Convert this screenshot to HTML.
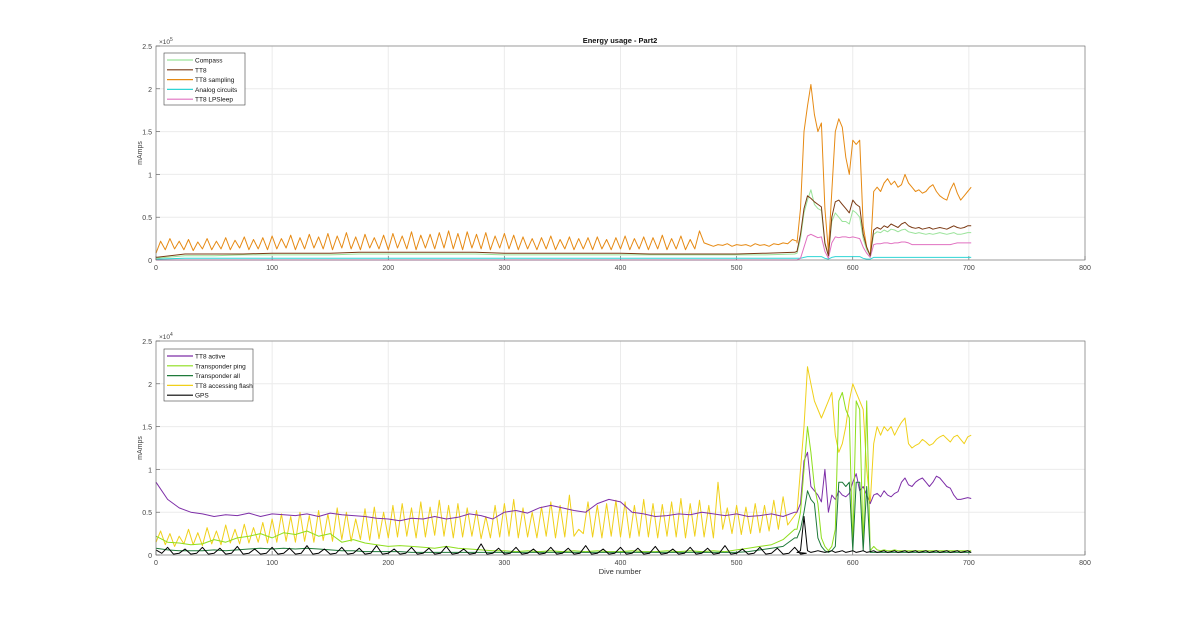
<!DOCTYPE html>
<html><head><meta charset="utf-8">
<style>
body{margin:0;background:#fff;}
svg text{font-family:"Liberation Sans",sans-serif;}
</style></head>
<body>
<svg id="chart" width="1200" height="622"></svg>
<script>
// ---- data (top panel in 1e3 mAmps, bottom panel in 1e3 mAmps) ----
const xTicks = [0,100,200,300,400,500,600,700,800];
const topYTicks = [0,0.5,1,1.5,2,2.5];
const botYTicks = [0,0.5,1,1.5,2,2.5];
const tailDives = [552,555,558,561,564,567,570,573,576,579,582,585,588,591,594,597,600,603,606,609,612,615,618,621,624,627,630,633,636,639,642,645,648,651,654,657,660,663,666,669,672,675,678,681,684,687,690,693,696,699,702];
// top
const samplingEarly = [8,22,12,25,13,22,12,24,11,21,13,25,12,22,13,26,12,23,14,27,12,24,13,26,12,28,13,25,14,29,12,26,13,30,14,27,13,31,12,28,14,32,13,27,12,30,14,26,13,29,12,31,14,28,13,33,12,29,14,30,13,32,14,34,13,31,12,33,14,30,13,32,12,28,14,31,13,29,12,27,13,25,12,26,13,28,12,24,13,27,12,25,13,26,12,27,13,24,12,26,13,28,12,25,13,27,12,26,13,29,12,25,13,28,12,24,13,34,20,18,16,18,17,19,16,18,17,18,16,19,17,18,16,19,18,20,19,24,22];
const samplingTail = [20,60,150,180,205,170,150,160,60,10,80,150,165,155,120,100,140,135,140,40,15,5,80,85,80,90,95,88,92,85,88,100,90,85,80,82,78,80,85,88,80,75,72,70,82,90,78,70,75,80,85];
const tt8Early = [3,7,7,7,8,8,8,9,9,9,9,9,8,8,8,8,8,7,7,7,7,8,9];
const tt8Tail = [10,30,60,75,72,68,65,62,20,5,50,68,70,65,60,55,70,65,62,30,15,5,35,38,36,40,38,42,40,38,42,44,40,38,37,38,36,37,38,36,37,38,37,36,38,40,38,37,38,40,40];
const compassEarly = [2,5,5,6,6,6,6,7,7,7,7,7,6,6,6,6,6,6,6,6,6,6,7];
const compassTail = [8,25,55,70,82,65,60,58,18,5,45,55,50,45,45,42,58,55,50,25,12,5,30,33,32,35,33,36,35,33,35,36,33,32,31,32,31,30,31,30,31,32,31,30,31,32,30,30,31,32,32];
const lpEarly = [0,0,0,0,0,0,0,0,0,0,0,0,0,0,0,0,0,0,0,0,0,0,0];
const lpTail = [0,2,15,28,30,28,26,27,10,2,20,27,26,27,27,26,27,26,25,15,8,3,18,19,19,20,20,19,20,20,21,21,20,18,18,18,18,18,18,18,18,18,18,18,18,19,20,20,20,20,20];
const analogEarly = [1,2,2,2,2,2,2,2,2,2,2,2,2,2,2,2,2,2,2,2,2,2,2];
const analogTail = [2,2,3,4,4,4,4,4,2,1,3,4,4,4,4,4,4,4,4,2,1,1,3,3,3,3,3,3,3,3,3,3,3,3,3,3,3,3,3,3,3,3,3,3,3,3,3,3,3,3,3];
// bottom
const flashEarly = [1.5,2.8,1.2,2.5,1.0,2.2,1.3,3.0,1.2,2.6,1.1,3.2,1.3,2.8,1.2,3.5,1.4,3.0,1.3,3.6,1.4,3.2,1.5,3.8,1.4,4.2,1.5,4.8,1.6,4.5,1.5,5.0,1.6,4.6,1.5,5.2,1.7,4.8,1.6,5.5,1.8,5.0,1.6,4.2,1.8,5.4,1.7,5.6,1.9,5.0,2.0,5.8,2.1,6.0,2.2,5.5,2.0,6.2,2.1,5.6,2.3,6.4,2.2,5.8,2.0,6.0,2.1,5.5,2.2,5.2,1.9,4.5,2.0,5.8,2.1,6.0,2.2,6.5,2.0,5.5,2.1,5.0,2.0,5.6,2.2,6.2,2.0,5.8,2.1,7.0,2.2,3.0,2.5,6.2,2.1,5.8,2.0,6.0,2.2,6.4,2.1,6.2,2.0,5.8,2.2,6.5,2.1,6.0,2.0,5.9,2.2,6.2,2.1,6.6,2.0,6.0,2.2,6.4,2.1,5.8,2.0,8.5,3.0,5.5,2.5,5.8,2.4,5.6,2.5,6.0,2.6,5.8,2.8,6.4,3.0,6.8,3.5];
const flashTail = [5,10,15,22,20,18,17,16,17,18,19,14,12,13,15,18,20,19,18,17,10,6,13,15,14,15,14.5,15,14,14.8,15.5,16,13,12.5,12.8,13,13.5,13.2,12.8,13,13.5,13.8,14,13.6,13.2,13.8,14,13.5,13,13.8,14];
const activeEarly = [8.5,6.5,5.5,5.0,4.8,4.5,4.7,4.6,4.9,4.5,4.8,4.7,4.6,4.8,4.5,4.9,4.7,4.6,4.5,4.3,4.2,4.0,4.3,4.2,4.5,4.2,4.4,4.8,4.6,4.2,5.0,5.2,4.9,5.5,5.8,5.5,5.2,5.0,6.0,6.5,6.2,5.0,4.8,4.5,4.6,4.8,4.7,5.0,4.8,4.6,4.8,4.5,4.6,4.8,4.5,5.0];
const activeTail = [5,6,11,12,8,7.5,7,6.2,10,5,7,6.5,7.5,7.0,6.8,7.2,8.5,9.5,7.5,8,7,6,7,7.2,6.8,7.5,7.0,6.8,7.2,7.4,8.5,9,8.2,8,8.5,8.8,9,8.5,8,8.5,9.2,9.0,8.5,8,7.8,7.0,6.5,6.5,6.6,6.7,6.6];
const pingEarly = [2.2,1.5,1.4,1.2,1.3,1.8,1.5,2.0,2.2,2.5,2.0,2.6,2.4,2.8,2.2,2.5,1.5,1.8,1.4,1.2,1.0,1.1,1.0,0.9,0.8,1.0,0.8,0.7,0.6,0.5,0.5,0.4,0.5,0.4,0.5,0.4,0.5,0.4,0.5,0.4,0.4,0.5,0.4,0.4,0.5,0.4,0.5,0.4,0.5,0.4,0.6,0.8,1.0,1.2,1.8,3.0];
const pingTail = [3,5,10,15,12,8,6,2,1,0.5,1,3,18,19,17,16,1,18,17,1,18,0.5,1,0.6,0.5,0.6,0.5,0.5,0.6,0.5,0.5,0.5,0.5,0.5,0.5,0.5,0.5,0.5,0.5,0.5,0.5,0.5,0.5,0.5,0.5,0.5,0.5,0.5,0.5,0.5,0.5];
const allEarly = [0.8,0.6,0.5,0.5,0.5,0.6,0.5,0.6,0.7,0.8,0.7,0.8,0.7,0.8,0.7,0.6,0.5,0.5,0.4,0.4,0.4,0.4,0.3,0.3,0.3,0.3,0.3,0.3,0.3,0.3,0.3,0.3,0.3,0.3,0.3,0.3,0.3,0.3,0.3,0.3,0.3,0.3,0.3,0.3,0.3,0.3,0.3,0.3,0.3,0.3,0.3,0.4,0.6,0.8,1.0,2.0];
const allTail = [2,3,5,7.5,6.5,6,2,1,0.5,0.3,0.5,1,8.5,8.5,8,8.5,0.5,8.5,8.5,0.5,8,0.3,0.3,0.3,0.3,0.3,0.3,0.3,0.3,0.3,0.3,0.3,0.3,0.3,0.3,0.3,0.3,0.3,0.3,0.3,0.3,0.3,0.3,0.3,0.3,0.3,0.3,0.3,0.3,0.3,0.3];
const gpsEarly = [0.6,0.2,0.9,0.1,0.2,0.7,0.1,0.2,0.9,0.1,0.2,0.8,0.1,0.2,1.0,0.1,0.2,0.7,0.1,0.2,0.9,0.1,0.2,0.8,0.1,0.2,1.1,0.1,0.2,0.7,0.1,0.2,0.9,0.1,0.2,0.8,0.1,0.2,1.1,0.1,0.2,0.7,0.1,0.2,0.9,0.1,0.2,0.8,0.1,0.2,1.0,0.1,0.2,0.7,0.1,0.2,1.3,0.1,0.2,0.8,0.1,0.2,0.9,0.1,0.2,0.7,0.1,0.2,0.9,0.1,0.2,0.8,0.1,0.2,1.1,0.1,0.2,0.7,0.1,0.2,0.9,0.1,0.2,0.8,0.1,0.2,1.0,0.1,0.2,0.7,0.1,0.2,0.9,0.1,0.2,0.8,0.1,0.2,1.1,0.1,0.2,0.7,0.1,0.2,0.9,0.1,0.2,0.8,0.1,0.2,0.9,0.1,0.2];
const gpsTail = [0.3,0.5,4.5,0.5,0.3,0.4,0.5,0.4,0.3,0.4,0.5,0.3,0.4,0.5,0.3,0.4,0.5,0.3,0.4,0.5,0.3,0.4,0.5,0.3,0.4,0.5,0.3,0.4,0.5,0.3,0.4,0.5,0.3,0.4,0.5,0.3,0.4,0.5,0.3,0.4,0.5,0.3,0.4,0.5,0.3,0.4,0.5,0.3,0.4,0.5,0.3];

const NS='http://www.w3.org/2000/svg';
const svg=document.getElementById('chart');
function mk(tag,attrs,parent){const e=document.createElementNS(NS,tag);for(const k in attrs)e.setAttribute(k,attrs[k]);(parent||svg).appendChild(e);return e;}
const X0=156,X1=1085;
function xs(d){return X0+(d/800)*(X1-X0);}
function makePanel(top,bottom,yTicks,exp,name){
  const g=mk('g',{});
  
  
  xTicks.forEach(t=>{const x=xs(t);
    const l=mk('line',{x1:x,x2:x,y1:top,y2:bottom,stroke:'#ebebeb','stroke-width':1},g);
    
    mk('line',{x1:x,x2:x,y1:bottom,y2:bottom-4,stroke:'#555','stroke-width':0.6},g);
    const tx=mk('text',{x:x,y:bottom+10,'font-size':7,'text-anchor':'middle',fill:'#444'},g);tx.textContent=t;
    });
  yTicks.forEach(t=>{const y=bottom-(t/2.5)*(bottom-top);
    mk('line',{x1:X0,x2:X1,y1:y,y2:y,stroke:'#ebebeb','stroke-width':1},g);
    mk('line',{x1:X0,x2:X0+4,y1:y,y2:y,stroke:'#555','stroke-width':0.6},g);
    const tx=mk('text',{x:X0-4,y:y+3,'font-size':7,'text-anchor':'end',fill:'#444'},g);tx.textContent=t;
    });
  const ex=mk('text',{x:X0+3,y:top-2,'font-size':6.5,fill:'#444'},g);ex.innerHTML='×10<tspan dy="-3" font-size="5">'+exp+'</tspan>';
  
  const yl=mk('text',{x:0,y:0,'font-size':7,'text-anchor':'middle',fill:'#444',transform:`translate(142,${(top+bottom)/2}) rotate(-90)`},g);yl.textContent='mAmps';
  
  return {g,top,bottom};
}
function drawSeries(p,max,earlyStep,early,tail,color,w,name){
  const ys=v=>p.bottom-(v/max)*(p.bottom-p.top);
  const pts=[];
  early.forEach((v,i)=>pts.push(xs(i*earlyStep).toFixed(1)+','+ys(v).toFixed(1)));
  const n=Math.min(tail.length,tailDives.length);
  for(let i=0;i<n;i++)pts.push(xs(tailDives[i]).toFixed(1)+','+ys(tail[i]).toFixed(1));
  const pl=mk('polyline',{points:pts.join(' '),fill:'none',stroke:color,'stroke-width':w,'stroke-linejoin':'round'},p.g);
  
  
}
function box(p){const r=mk('rect',{x:X0,y:p.top,width:X1-X0,height:p.bottom-p.top,fill:'none',stroke:'#666','stroke-width':0.6},p.g);
  }
function legend(p,x,y,w,items,name){
  const lg=mk('g',{},p.g);
  
  
  mk('rect',{x:x,y:y,width:w,height:items.length*9.8+3,fill:'#fff',stroke:'#444','stroke-width':0.6},lg);
  items.forEach((it,i)=>{const yy=y+7+i*9.8;
    mk('line',{x1:x+3,x2:x+29,y1:yy,y2:yy,stroke:it[1],'stroke-width':1.2},lg);
    const t=mk('text',{x:x+31,y:yy+2.5,'font-size':6.5,fill:'#111'},lg);t.textContent=it[0];
    });
}
// top
const P1=makePanel(46,260,topYTicks,5,'top-panel');
const title=mk('text',{x:620,y:43,'font-size':7.5,'font-weight':'bold','text-anchor':'middle',fill:'#111'});
title.textContent='Energy usage - Part2';


const C={compass:'#9be39b',tt8:'#7b3a14',samp:'#e68a14',analog:'#2fd5d5',lp:'#e070c0'};
drawSeries(P1,250,4,samplingEarly,samplingTail,C.samp,1,'series-tt8-sampling');
drawSeries(P1,250,25,analogEarly,analogTail,C.analog,1,'series-analog-circuits');
drawSeries(P1,250,25,lpEarly,lpTail,C.lp,1,'series-tt8-lpsleep');
drawSeries(P1,250,25,compassEarly,compassTail,C.compass,1,'series-compass');
drawSeries(P1,250,25,tt8Early,tt8Tail,C.tt8,1,'series-tt8');
box(P1);
legend(P1,164,53,81,[['Compass',C.compass],['TT8',C.tt8],['TT8 sampling',C.samp],['Analog circuits',C.analog],['TT8 LPSleep',C.lp]],'top-legend');
// bottom
const P2=makePanel(341,555,botYTicks,4,'bottom-panel');
const D={active:'#7e2fa8',ping:'#8ede1c',all:'#1f7a3a',flash:'#f0d01a',gps:'#000'};
drawSeries(P2,25,4,flashEarly,flashTail,D.flash,1,'series-tt8-accessing-flash');
drawSeries(P2,25,10,activeEarly,activeTail,D.active,1,'series-tt8-active');
drawSeries(P2,25,10,pingEarly,pingTail,D.ping,1,'series-transponder-ping');
drawSeries(P2,25,10,allEarly,allTail,D.all,1,'series-transponder-all');
drawSeries(P2,25,5,gpsEarly,gpsTail,D.gps,1,'series-gps');
box(P2);
legend(P2,164,349,89,[['TT8 active',D.active],['Transponder ping',D.ping],['Transponder all',D.all],['TT8 accessing flash',D.flash],['GPS',D.gps]],'bottom-legend');
const xl=mk('text',{x:620,y:574,'font-size':7.5,'text-anchor':'middle',fill:'#333'});
xl.textContent='Dive number';


</script>
</body></html>
